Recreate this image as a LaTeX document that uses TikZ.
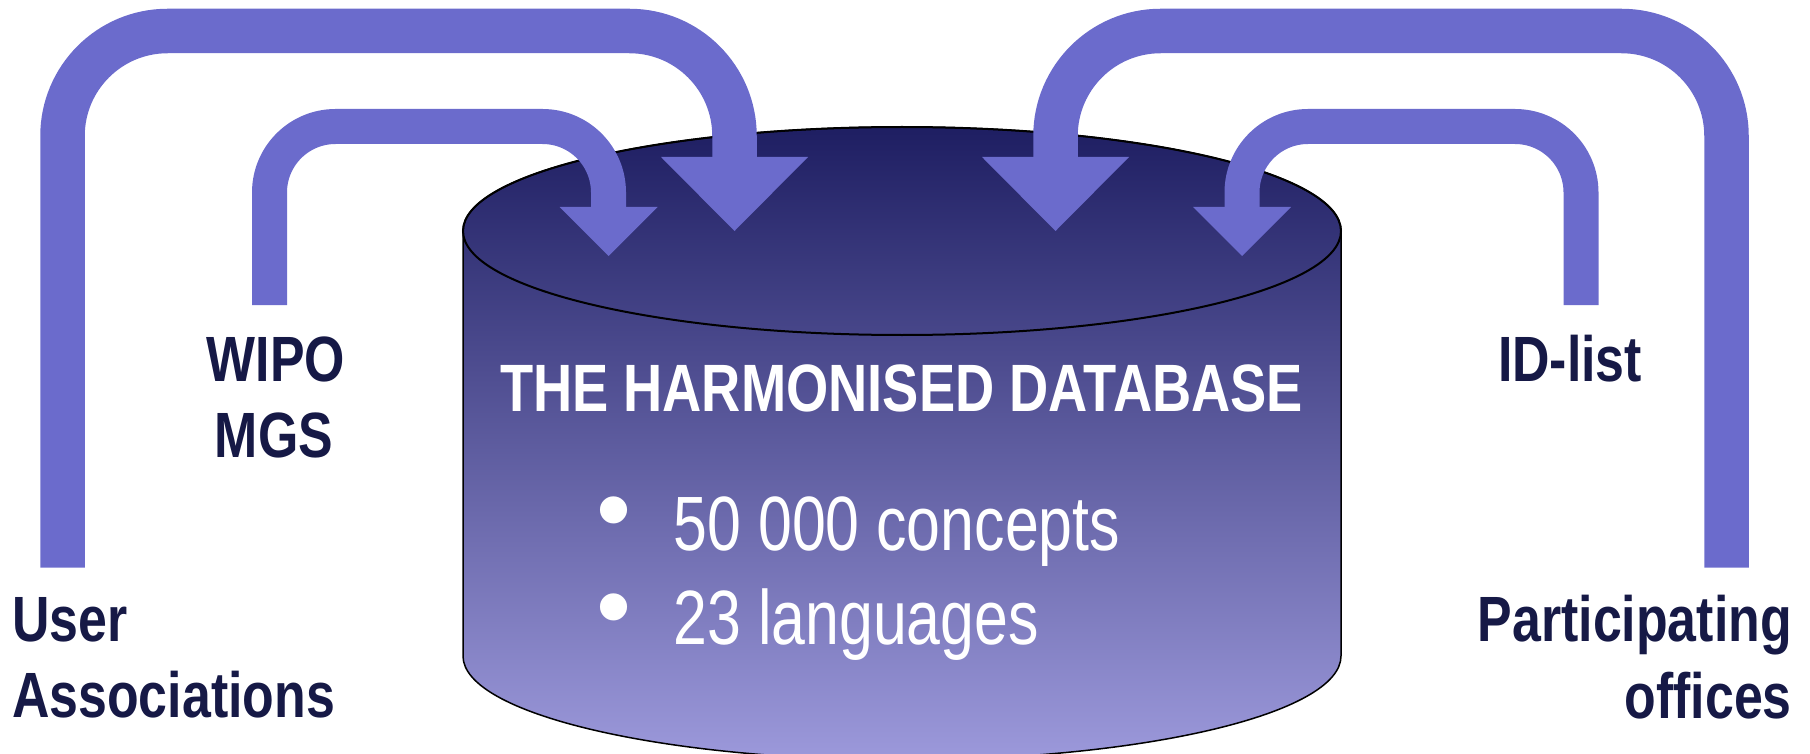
\documentclass[tikz,border=0pt]{standalone}
\usepackage{fontspec}
\newfontfamily\narrowsans[FakeStretch=0.81]{Liberation Sans}
\newfontfamily\itemfont[FakeStretch=0.79]{Liberation Sans}
\newfontfamily\plainsans{Liberation Sans}
\usetikzlibrary{calc}
\definecolor{arrowc}{RGB}{107,107,204}
\definecolor{navy}{RGB}{22,25,70}
\definecolor{cyltop}{RGB}{30,30,98}
\definecolor{cylbot}{RGB}{156,153,219}
\begin{document}
\begin{tikzpicture}[x=1pt,y=-1pt,
  lbl/.style={inner sep=0pt, text=navy, font=\narrowsans\bfseries\fontsize{64}{76}\selectfont},
  dbtitle/.style={inner sep=0pt, text=white, font=\narrowsans\bfseries\fontsize{67}{80}\selectfont},
  dbitem/.style={inner sep=0pt, text=white, font=\itemfont\fontsize{77}{94}\selectfont},
  dbbullet/.style={inner sep=0pt, text=white, font=\plainsans\fontsize{100}{100}\selectfont},
  flow/.style={draw=arrowc, line cap=butt},
  bigflow/.style={flow, line width=44.5pt, rounded corners=105pt},
  smallflow/.style={flow, line width=35pt, rounded corners=66pt},
  headfill/.style={fill=arrowc}]
\useasboundingbox (0,0) rectangle (1810,754);

% database cylinder
\shadedraw[top color=cyltop, bottom color=cylbot, draw=black, line width=1.5pt]
  (463,231) -- (463,656) arc[start angle=180, end angle=0, x radius=439, y radius=104]
  -- (1341,231) arc[start angle=0, end angle=-180, x radius=439, y radius=104] -- cycle;
\draw[line width=2pt] (902,231) ellipse [x radius=439, y radius=104];

% coordinates of the flows
\coordinate (topbig) at (0,31);
\coordinate (topsmall) at (0,126.5);
\coordinate (ua) at (62.5,567.5);
\coordinate (uaE) at (734.5,157);
\coordinate (wp) at (269.5,305);
\coordinate (wpE) at (608.5,207);
\coordinate (po) at (1726.5,567.5);
\coordinate (poE) at (1055.5,157);
\coordinate (id) at (1581,305);
\coordinate (idE) at (1242,207);

% big flows
\draw[bigflow] (ua) -- (ua |- topbig) -- (uaE |- topbig) -- ($(uaE)+(0,3)$);
\fill[headfill] ($(uaE)+(-73.5,0)$) -- ($(uaE)+(73.5,0)$) -- ($(uaE)+(0,74)$) -- cycle;
\draw[bigflow] (po) -- (po |- topbig) -- (poE |- topbig) -- ($(poE)+(0,3)$);
\fill[headfill] ($(poE)+(-73.5,0)$) -- ($(poE)+(73.5,0)$) -- ($(poE)+(0,74)$) -- cycle;

% small flows
\draw[smallflow] (wp) -- (wp |- topsmall) -- (wpE |- topsmall) -- ($(wpE)+(0,3)$);
\fill[headfill] ($(wpE)+(-49,0)$) -- ($(wpE)+(49,0)$) -- ($(wpE)+(0,49)$) -- cycle;
\draw[smallflow] (id) -- (id |- topsmall) -- (idE |- topsmall) -- ($(idE)+(0,3)$);
\fill[headfill] ($(idE)+(-49,0)$) -- ($(idE)+(49,0)$) -- ($(idE)+(0,49)$) -- cycle;

% labels
\node[lbl, anchor=base] (wipo) at (276,381) {WIPO};
\node[lbl, anchor=base] (mgs) at (274,457) {MGS};
\node[lbl, anchor=base west] (user) at (12,641) {User};
\node[lbl, anchor=base west] (assoc) at (12,717) {Associations};
\node[lbl, anchor=base] (idlist) at (1570,381) {ID-list};
\node[lbl, anchor=base east] (partic) at (1792,641) {Participating};
\node[lbl, anchor=base east] (offices) at (1792,718) {offices};

% database text
\node[dbtitle, anchor=base] (title) at (901.5,411) {THE HARMONISED DATABASE};
\node[dbbullet] (b1) at (614,520) {•};
\node[dbbullet] (b2) at (614,617) {•};
\node[dbitem, anchor=base west] (c1) at (673.5,550) {50 000 concepts};
\node[dbitem, anchor=base west] (c2) at (673.5,644) {23 languages};
\end{tikzpicture}
\end{document}
